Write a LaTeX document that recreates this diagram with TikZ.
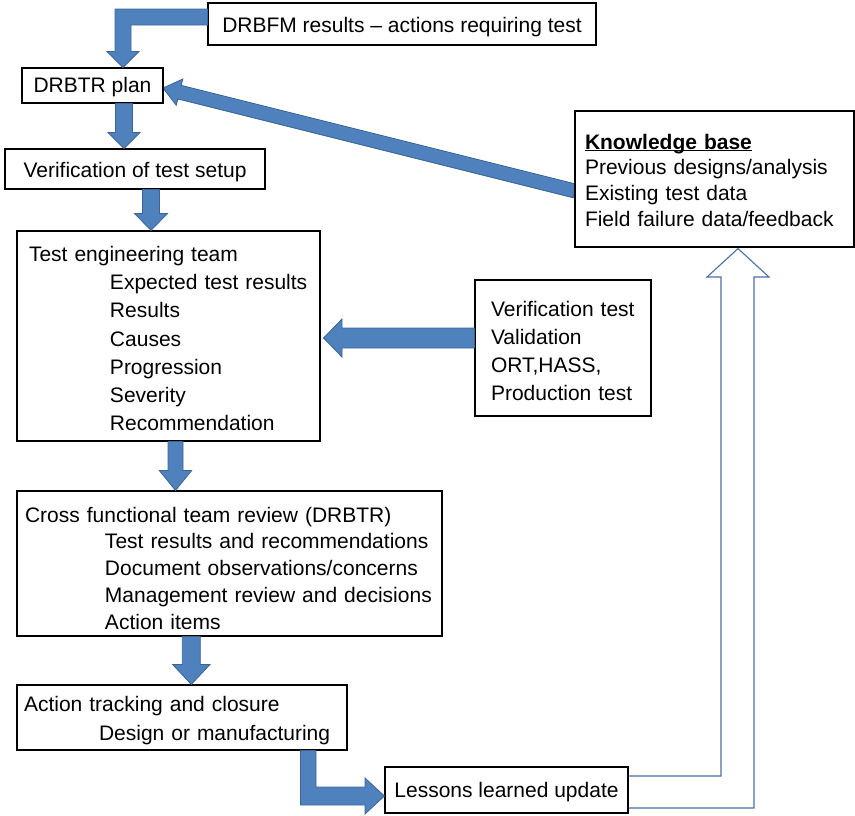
\documentclass[tikz,border=0pt]{standalone}
\usepackage{fontspec}
\setmainfont{Liberation Sans}
\usetikzlibrary{calc}

\definecolor{blkfill}{HTML}{4F81BD}
\definecolor{blkline}{HTML}{3B6598}
\definecolor{hollowline}{HTML}{4A6FA3}

% underline drawn at a fixed depth below the baseline
\newcommand\kbunder[1]{\setbox0\hbox{#1}\rlap{\rule[-2.4pt]{\wd0}{1.4pt}}\box0}
% invisible strut that lowers the text block inside its box
\newcommand\lift[1]{\rule{0pt}{#1pt}}

% downward block arrow: #1 source anchor, #2 target anchor, #3 centre x,
% #4 half shaft width, #5 half head width, #6 head length
\newcommand\downblk[6]{%
  \filldraw[blk] let \p1=(#1), \p2=(#2) in
    (#3-#4,\y1) -- (#3+#4,\y1) -- (#3+#4,\y2+#6) -- (#3+#5,\y2+#6) --
    (#3,\y2) -- (#3-#5,\y2+#6) -- (#3-#4,\y2+#6) -- cycle;}

\begin{document}
\begin{tikzpicture}[x=1pt,y=1pt,
  box/.style={draw=black, line width=1.1pt, fill=white, inner sep=0pt,
    font=\fontsize{21}{28}\selectfont},
  listbox/.style={box, align=left},
  blk/.style={fill=blkfill, draw=blkline, line width=0.8pt, line join=miter},
  hollow/.style={fill=white, draw=hollowline, line width=1.1pt, line join=miter}]

\useasboundingbox (0,0) rectangle (855,-815);

% ---- block arrows (drawn first, boxes cover their ends) ----
\coordinate (kbfoot) at (575,-191);
\coordinate (planin) at (163,-88);
\coordinate (dB) at ($(planin)!17pt!(kbfoot)$);
\filldraw[blk]
  ($(kbfoot)!7pt!90:(planin)$) -- ($(dB)!7pt!90:(planin)$) --
  ($(dB)!13.5pt!90:(planin)$) -- (planin) --
  ($(dB)!13.5pt!-90:(planin)$) -- ($(dB)!7pt!-90:(planin)$) --
  ($(kbfoot)!7pt!-90:(planin)$) -- cycle;

% ---- boxes ----
\node[box, minimum width=388, minimum height=42] (drbfm) at (402,-24)
  {\lift{21.3}DRBFM results – actions requiring test};
\node[box, minimum width=141, minimum height=35] (plan) at (92.5,-85.5)
  {\lift{19.3}DRBTR plan};
\node[box, minimum width=260, minimum height=40] (setup) at (135,-169)
  {\lift{21.3}Verification of test setup};

\node[listbox, text width=279, inner xsep=12, minimum height=210,
  font=\fontsize{21}{28.3}\selectfont] (team) at (168.5,-336)
  {\lift{20.3}Test engineering team\\
   \hspace*{81pt}Expected test results\\
   \hspace*{81pt}Results\\
   \hspace*{81pt}Causes\\
   \hspace*{81pt}Progression\\
   \hspace*{81pt}Severity\\
   \hspace*{81pt}Recommendation};

\node[listbox, text width=144, inner xsep=16, minimum height=136,
  font=\fontsize{21}{28}\selectfont] (vtest) at (563,-348)
  {\lift{20.3}Verification test\\ Validation\\ ORT,HASS,\\ Production test};

\node[listbox, text width=259, inner xsep=10, minimum height=136,
  font=\fontsize{21}{25.7}\selectfont] (kb) at (714.5,-179)
  {\lift{17.3}\kbunder{\textbf{Knowledge base}}\\ Previous designs/analysis\\
   Existing test data\\ Field failure data/feedback};

\node[listbox, text width=409, inner xsep=8, minimum height=145,
  font=\fontsize{21}{26.8}\selectfont] (review) at (229.5,-563.5)
  {\lift{24.4}Cross functional team review (DRBTR)\\
   \hspace*{80pt}Test results and recommendations\\
   \hspace*{80pt}Document observations/concerns\\
   \hspace*{80pt}Management review and decisions\\
   \hspace*{80pt}Action items};

\node[listbox, text width=316, inner xsep=7, minimum height=65,
  font=\fontsize{21}{29}\selectfont] (track) at (182,-717.5)
  {\lift{22.3}Action tracking and closure\\
   \hspace*{75pt}Design or manufacturing};

% ---- hollow feedback arrow, lessons learned up to the knowledge base ----
\filldraw[hollow] let \p1=(kb.south) in
  (628,-776) -- (721,-776) -- (721,-277) -- (707,-277) -- (738,\y1-1) --
  (769,-277) -- (754,-277) -- (754,-808) -- (628,-808);

\node[box, minimum width=243, minimum height=46] (lessons) at (506.5,-790)
  {\lift{19.3}Lessons learned update};

% ---- block arrows between boxes ----
% results of the DRBFM into the plan
\filldraw[blk] let \p1=(drbfm.west), \p2=(plan.north) in
  (\x1,-9) -- (115,-9) -- (115,\y2+16) -- (107,\y2+16) -- (123,\y2) --
  (139,\y2+16) -- (131,\y2+16) -- (131,-25) -- (\x1,-25) -- cycle;

\downblk{plan.south}{setup.north}{124}{8.5}{16}{16}
\downblk{setup.south}{team.north}{151}{8.5}{16.5}{17}
\downblk{team.south}{review.north}{175.5}{7.5}{16.2}{20}
\downblk{review.south}{track.north}{191.3}{9}{18.7}{20}

% test inputs into the engineering team
\filldraw[blk] let \p1=(vtest.west), \p2=(team.east) in
  (\x1,-328) -- (342,-328) -- (342,-319) -- (\x2+3,-338) --
  (342,-357) -- (342,-348) -- (\x1,-348) -- cycle;

% action tracking into lessons learned
\filldraw[blk] let \p1=(track.south), \p2=(lessons.west) in
  (300.5,\y1) -- (300.5,-805) -- (365,-805) -- (365,-814) -- (\x2,-796) --
  (365,-778) -- (365,-787) -- (316,-787) -- (316,\y1) -- cycle;

\end{tikzpicture}
\end{document}
